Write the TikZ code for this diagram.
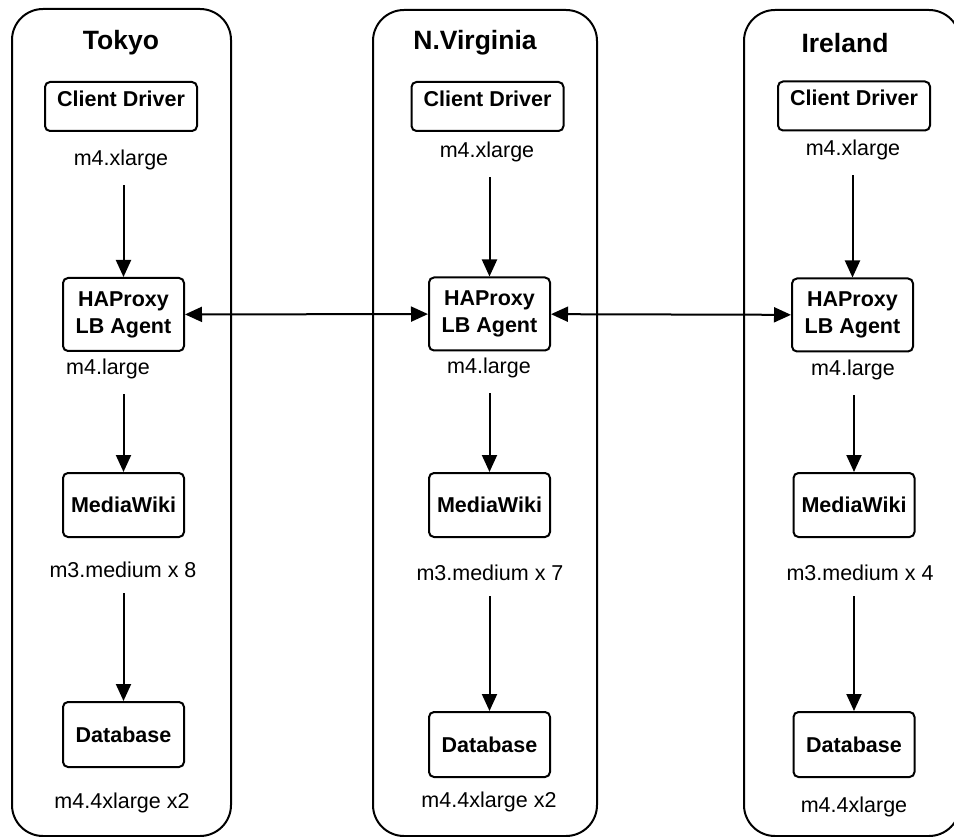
\documentclass[tikz,border=0pt]{standalone}
\usepackage{fontspec}
\setmainfont{Liberation Sans}
\usetikzlibrary{positioning,calc}
\usetikzlibrary{arrows.meta}
\tikzset{region/.style={draw=black,line width=2pt,rounded corners=31pt}, title/.style={font=\fontsize{26.5}{30}\selectfont\bfseries,inner sep=0pt}, box/.style={draw=black,line width=2pt,rounded corners=5pt,font=\fontsize{21.5}{27}\selectfont\bfseries,align=center,inner sep=0pt,minimum width=121pt}, driver/.style={box,minimum width=152pt,minimum height=49pt,text height=15.5pt,text depth=15.5pt}, spec/.style={font=\fontsize{21.5}{26}\selectfont,inner sep=0pt}, flow/.style={line width=2pt,-{Triangle[length=17pt,width=15pt]},shorten <=15pt}, link/.style={line width=2pt,{Triangle[length=17pt,width=15pt]}-{Triangle[length=17pt,width=15pt]}}}

\begin{document}
\begin{tikzpicture}[x=1pt,y=-1pt]
\useasboundingbox (0,0) rectangle (954,837);
\draw[region] (12,9) rectangle (231,836);
\draw[region] (373,10) rectangle (597,836);
\draw[region] (744,10) rectangle (960,836);
% Tokyo
\node[title] (ttl) at (121,43) {Tokyo};
\node[driver] (tcd) at (121,106.5) {Client Driver};
\node[spec] (tcdt) at (121,160) {m4.xlarge};
\node[box,minimum height=73pt] (tha) at (123.5,314.5) {HAProxy\\LB Agent};
\node[spec] (that) at (108,369) {m4.large};
\node[box,minimum height=64pt] (tmw) at (123.5,505) {MediaWiki};
\node[spec] (tmwt) at (123,570) {m3.medium x 8};
\node[box,minimum height=65pt] (tdb) at (123.5,734.5) {Database};
\node[spec] (tdbt) at (122,803) {m4.4xlarge x2};
% N.Virginia
\node[title] (vtl) at (475,43) {N.Virginia};
\node[driver] (vcd) at (487.5,106.5) {Client Driver};
\node[spec] (vcdt) at (487,152) {m4.xlarge};
\node[box,minimum height=73pt] (vha) at (489.5,314) {HAProxy\\LB Agent};
\node[spec] (vhat) at (489,368) {m4.large};
\node[box,minimum height=64pt] (vmw) at (489.5,505) {MediaWiki};
\node[spec] (vmwt) at (490,573) {m3.medium x 7};
\node[box,minimum height=65pt] (vdb) at (489.5,744.5) {Database};
\node[spec] (vdbt) at (489,802) {m4.4xlarge x2};
% Ireland
\node[title] (itl) at (845,43) {Ireland};
\node[driver] (icd) at (854,106) {Client Driver};
\node[spec] (icdt) at (853,150) {m4.xlarge};
\node[box,minimum height=73pt] (iha) at (852.5,315) {HAProxy\\LB Agent};
\node[spec] (ihat) at (853,370) {m4.large};
\node[box,minimum height=64pt] (imw) at (854,505) {MediaWiki};
\node[spec] (imwt) at (860,573) {m3.medium x 4};
\node[box,minimum height=65pt] (idb) at (854,744.5) {Database};
\node[spec] (idbt) at (854,807) {m4.4xlarge};
% arrows
\draw[flow] (tcdt.south -| tha) -- (tha);
\draw[flow] (that.south -| tmw) -- (tmw);
\draw[flow] (tmwt.south -| tdb) -- (tdb);
\draw[flow] (vcdt.south -| vha) -- (vha);
\draw[flow] (vhat.south -| vmw) -- (vmw);
\draw[flow] (vmwt.south -| vdb) -- (vdb);
\draw[flow] (icdt.south -| iha) -- (iha);
\draw[flow] (ihat.south -| imw) -- (imw);
\draw[flow] (imwt.south -| idb) -- (idb);
\draw[link] (tha) -- (vha);
\draw[link] (vha) -- (iha);
\end{tikzpicture}
\end{document}
